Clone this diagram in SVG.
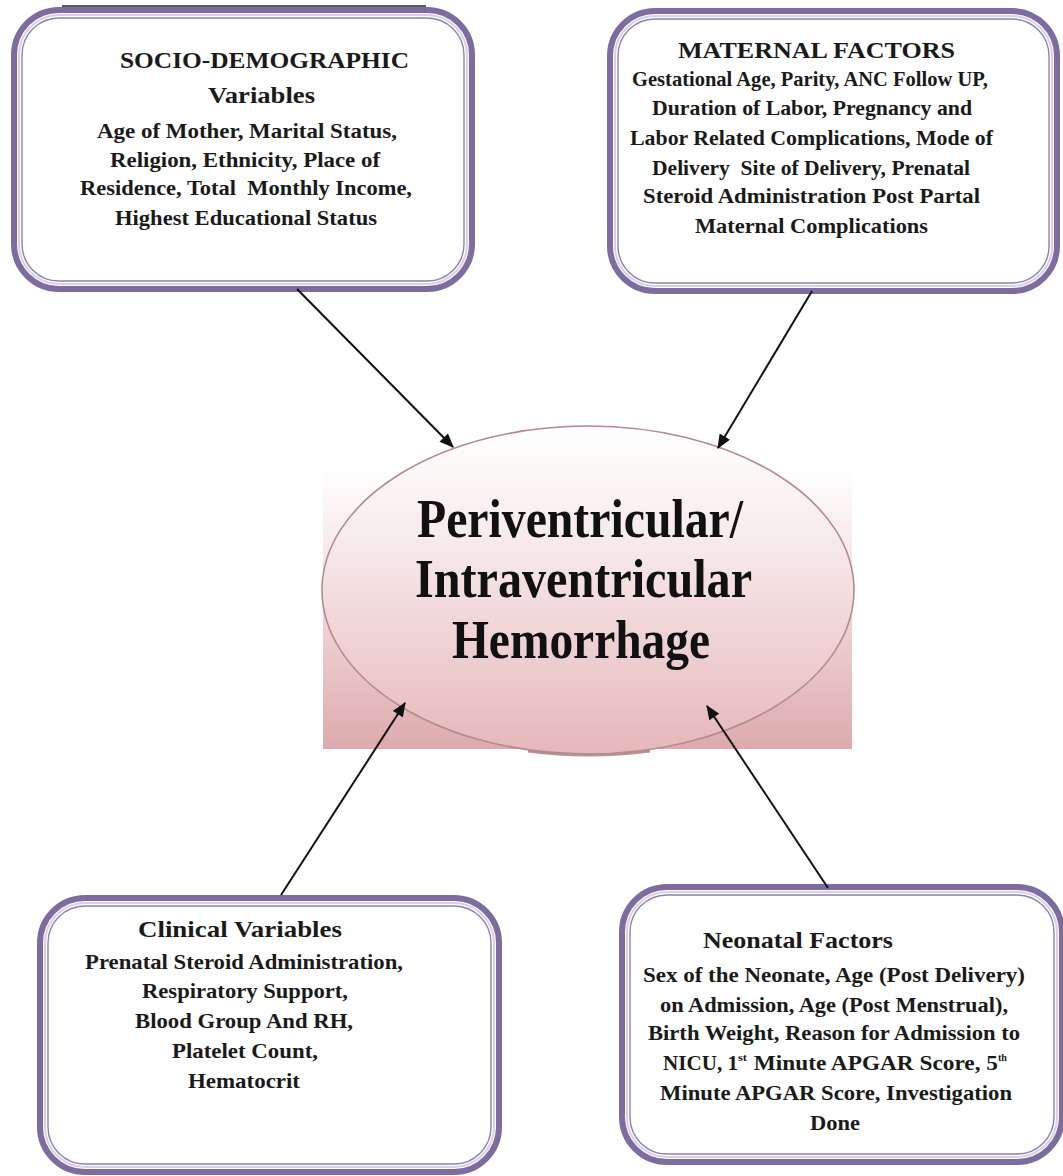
<svg xmlns="http://www.w3.org/2000/svg" width="1063" height="1176" viewBox="0 0 1063 1176">
  <defs>
    <linearGradient id="rectGrad" x1="0" y1="0" x2="0" y2="1">
      <stop offset="0" stop-color="#ffffff"/>
      <stop offset="0.45" stop-color="#f3dcdd"/>
      <stop offset="1" stop-color="#ddaaad"/>
    </linearGradient>
    <linearGradient id="ellGrad" x1="0" y1="0" x2="0" y2="1">
      <stop offset="0" stop-color="#ffffff"/>
      <stop offset="0.35" stop-color="#f7eaeb"/>
      <stop offset="1" stop-color="#e6b7ba"/>
    </linearGradient>
    <marker id="arrow" viewBox="0 0 12 10" refX="11" refY="5" markerWidth="15" markerHeight="12" markerUnits="userSpaceOnUse" orient="auto">
      <path d="M0,0 L12,5 L0,10 z" fill="#111"/>
    </marker>
    <style>
      .outer { fill: #ffffff; stroke: #7d6c9f; stroke-width: 6; }
      .mid { fill: none; stroke: #d8d0e6; stroke-width: 2; }
      .inner { fill: none; stroke: #8f80b0; stroke-width: 1.4; }
      .title { font-family: "Liberation Serif", "Times New Roman", serif; font-weight: bold; font-size: 24px; fill: #1a1a1a; }
      .body { font-family: "Liberation Serif", "Times New Roman", serif; font-weight: bold; font-size: 21px; fill: #1a1a1a; }
      .sup { font-family: "Liberation Serif", "Times New Roman", serif; font-weight: bold; font-size: 11px; fill: #1a1a1a; }
      .big { font-family: "Liberation Serif", "Times New Roman", serif; font-weight: bold; font-size: 55px; fill: #111; }
      .conn { stroke: #111; stroke-width: 2; fill: none; marker-end: url(#arrow); }
    </style>
  </defs>

  <rect width="1063" height="1176" fill="#ffffff"/>

  <g id="center">
    <rect x="323" y="468" width="529" height="281" fill="url(#rectGrad)"/>
    <path d="M 528 751 Q 588 759 650 751" fill="none" stroke="#7a3a40" stroke-width="3" opacity="0.55"/>
    <ellipse cx="588" cy="590" rx="266" ry="164" fill="url(#ellGrad)" stroke="#b48a8e" stroke-width="1.6"/>
    <text class="big" x="417" y="537" textLength="326" lengthAdjust="spacingAndGlyphs">Periventricular/</text>
    <text class="big" x="415" y="597" textLength="337" lengthAdjust="spacingAndGlyphs">Intraventricular</text>
    <text class="big" x="452" y="658" textLength="258" lengthAdjust="spacingAndGlyphs">Hemorrhage</text>
  </g>

  <g id="socio">
    <line x1="62" y1="6" x2="426" y2="6" stroke="#222" stroke-width="1.5"/>
    <rect class="outer" x="14" y="10" width="458" height="279" rx="45"/>
    <rect class="mid" x="19" y="15" width="448" height="269" rx="40"/>
    <rect class="inner" x="22" y="18" width="442" height="263" rx="37"/>
    <text class="title" x="120" y="68" textLength="289" lengthAdjust="spacingAndGlyphs">SOCIO-DEMOGRAPHIC</text>
    <text class="title" x="208" y="103" textLength="107" lengthAdjust="spacingAndGlyphs">Variables</text>
    <text class="body" x="97" y="138" textLength="300" lengthAdjust="spacingAndGlyphs">Age of Mother, Marital Status,</text>
    <text class="body" x="110" y="167" textLength="270" lengthAdjust="spacingAndGlyphs">Religion, Ethnicity, Place of</text>
    <text class="body" x="80" y="195" textLength="332" lengthAdjust="spacingAndGlyphs">Residence, Total&#160; Monthly Income,</text>
    <text class="body" x="115" y="225" textLength="262" lengthAdjust="spacingAndGlyphs">Highest Educational Status</text>
  </g>

  <g id="maternal">
    <rect class="outer" x="610" y="11" width="447" height="280" rx="45"/>
    <rect class="mid" x="615" y="16" width="437" height="270" rx="40"/>
    <rect class="inner" x="618" y="19" width="431" height="264" rx="37"/>
    <text class="title" x="678" y="58" textLength="277" lengthAdjust="spacingAndGlyphs">MATERNAL FACTORS</text>
    <text class="body" x="632" y="86" textLength="356" lengthAdjust="spacingAndGlyphs">Gestational Age, Parity, ANC Follow UP,</text>
    <text class="body" x="652" y="115" textLength="320" lengthAdjust="spacingAndGlyphs">Duration of Labor, Pregnancy and</text>
    <text class="body" x="630" y="145" textLength="363" lengthAdjust="spacingAndGlyphs">Labor Related Complications, Mode of</text>
    <text class="body" x="652" y="175" textLength="318" lengthAdjust="spacingAndGlyphs">Delivery&#160; Site of Delivery, Prenatal</text>
    <text class="body" x="643" y="203" textLength="337" lengthAdjust="spacingAndGlyphs">Steroid Administration Post Partal</text>
    <text class="body" x="695" y="233" textLength="233" lengthAdjust="spacingAndGlyphs">Maternal Complications</text>
  </g>

  <g id="clinical">
    <rect class="outer" x="40" y="898" width="459" height="274" rx="45"/>
    <rect class="mid" x="45" y="903" width="449" height="264" rx="40"/>
    <rect class="inner" x="48" y="906" width="443" height="258" rx="37"/>
    <text class="title" x="138" y="937" textLength="204" lengthAdjust="spacingAndGlyphs">Clinical Variables</text>
    <text class="body" x="85" y="969" textLength="318" lengthAdjust="spacingAndGlyphs">Prenatal Steroid Administration,</text>
    <text class="body" x="142" y="998" textLength="206" lengthAdjust="spacingAndGlyphs">Respiratory Support,</text>
    <text class="body" x="135" y="1028" textLength="218" lengthAdjust="spacingAndGlyphs">Blood Group And RH,</text>
    <text class="body" x="172" y="1058" textLength="146" lengthAdjust="spacingAndGlyphs">Platelet Count,</text>
    <text class="body" x="188" y="1088" textLength="112" lengthAdjust="spacingAndGlyphs">Hematocrit</text>
  </g>

  <g id="neonatal">
    <rect class="outer" x="622" y="887" width="440" height="275" rx="45"/>
    <rect class="mid" x="627" y="892" width="430" height="265" rx="40"/>
    <rect class="inner" x="630" y="895" width="424" height="259" rx="37"/>
    <text class="title" x="703" y="948" textLength="190" lengthAdjust="spacingAndGlyphs">Neonatal Factors</text>
    <text class="body" x="643" y="982" textLength="382" lengthAdjust="spacingAndGlyphs">Sex of the Neonate, Age (Post Delivery)</text>
    <text class="body" x="660" y="1012" textLength="348" lengthAdjust="spacingAndGlyphs">on Admission, Age (Post Menstrual),</text>
    <text class="body" x="648" y="1040" textLength="372" lengthAdjust="spacingAndGlyphs">Birth Weight, Reason for Admission to</text>
    <text class="body" x="663" y="1070" textLength="75" lengthAdjust="spacingAndGlyphs">NICU, 1</text>
    <text class="sup" x="738" y="1061" textLength="9" lengthAdjust="spacingAndGlyphs">st</text>
    <text class="body" x="748" y="1070" textLength="250" lengthAdjust="spacingAndGlyphs">&#160;Minute APGAR Score, 5</text>
    <text class="sup" x="998" y="1061" textLength="9" lengthAdjust="spacingAndGlyphs">th</text>
    <text class="body" x="660" y="1100" textLength="352" lengthAdjust="spacingAndGlyphs">Minute APGAR Score, Investigation</text>
    <text class="body" x="810" y="1130" textLength="50" lengthAdjust="spacingAndGlyphs">Done</text>
  </g>

  <g id="connectors">
    <line class="conn" x1="297" y1="289" x2="453" y2="447"/>
    <line class="conn" x1="812" y1="291" x2="718" y2="448"/>
    <line class="conn" x1="281" y1="895" x2="405" y2="703"/>
    <line class="conn" x1="828" y1="888" x2="707" y2="706"/>
  </g>
</svg>
